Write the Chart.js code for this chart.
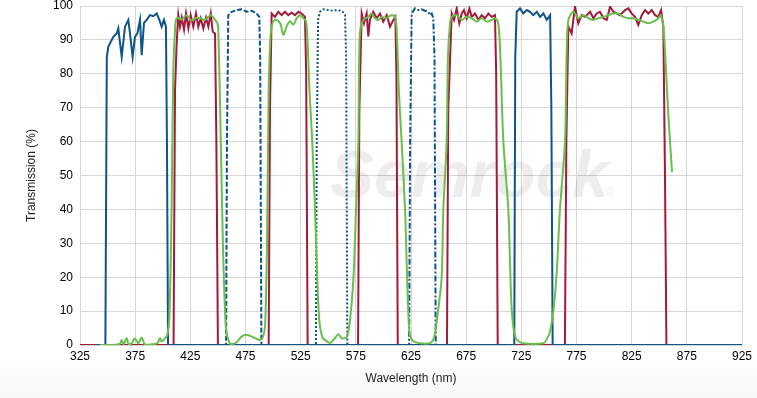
<!DOCTYPE html>
<html>
<head>
<meta charset="utf-8">
<script src="https://cdn.jsdelivr.net/npm/chart.js@4.4.1/dist/chart.umd.min.js"></script>
<style>
  html, body { margin:0; padding:0; background:#fff; }
  #wrap { width:757px; height:398px; background:linear-gradient(#fff 0, #fff 350px, #f7f7f7 398px); }
</style>
</head>
<body>
<div id="wrap"><canvas id="filterChart" width="757" height="398"></canvas></div>
<script>
// ==========================
// DATA (wavelength nm / transmission %)
// ==========================
const blueSolidWl = [340,348,349.3,350.7,352.2,355.2,358.3,359.7,362.8,365.8,368.8,370.3,372.7,374.8,377,379.4,380.9,383,385.4,388.4,391.4,394.5,396.9,399,401.1,402.9,403.8,404.8,
  716,718.6,719.5,720.8,723.8,726.8,729.9,732.9,735.9,739,742,745,748.1,751.1,752.2,753.4,925];
const blueSolidT  = [0,0,85,88,89,90.9,91.9,93.4,85,93.9,95.9,91.9,85,90.9,91.9,95.9,85.5,95,95.9,97.3,97,97.8,95.9,93.9,95.9,93.9,60,0,
  0,0,85,98.3,99.3,97.8,98.8,98.3,97.3,98.3,96.8,97.8,95.9,97.3,70,0,0];

const blueDashWl = [455,457.4,458.2,459.4,462.5,467,471.5,476.1,480.6,485.1,487.5,488.3,489.4,492];
const blueDashT  = [0,0,60,97.3,98.3,98.8,99,98.3,98.6,97.8,96.8,85,0,0];

const blueDotWl = [536,538.8,539.6,540.8,542.5,545.6,550.1,554.7,559.2,563.1,565.2,566.2,567.3,570];
const blueDotT  = [0,0,60,96,98.3,99,98.8,98.6,98.8,98.3,97.3,85,0,0];

const blueDashDotWl = [620,623.3,624.2,625.6,628.6,631.6,634.7,637.7,640.7,642.2,643.8,645.2,646.3,647.4,651];
const blueDashDotT  = [0,0,60,97.8,99.3,98.8,99,98.6,98.3,97.3,97.8,96.4,85,0,0];

const redWl = [325,409.8,411.1,412.6,414.1,415.6,417.2,419.3,421.1,423.2,425.3,427.7,430.1,432.2,434.4,436.8,439.2,441.3,443.5,445.3,447.4,448.6,450,
  496,497.2,498.7,501.7,504.7,507.8,510.8,513.8,516.8,519.9,522.9,525.9,528.9,530,531.3,
  577,578.2,580.3,582.4,584.8,586.3,587.8,590.8,593.9,596.9,599.9,603,606,609,610.8,611.8,613,
  657.6,658.8,661.9,664,666.4,668.8,671,673,675.5,677.9,680,683,686.1,689.1,692.1,695.1,698.2,701.1,702.2,703.6,
  764.5,765.8,767.6,770.6,773.6,776.6,779.7,782.7,787.3,790.3,793.3,796.3,799.3,802.4,805.4,808.4,811.4,814.4,819,822,825,828,831,834.1,837.1,840.1,843.2,846.2,849.2,851.6,853.7,855.2,856.5,925];
const redT  = [0,0,75,89,97.3,93.9,96.6,93,97.8,93.4,97.3,93.9,97.8,93.9,96.4,93.4,96.6,93.9,97.8,92.4,91.9,60,0,
  0,70,97.8,96.8,98.3,97.3,98.3,97.3,98,97.3,98.3,97.8,96.8,80,0,
  0,70,97.8,94.9,97.8,91,96,98.3,96.4,97.8,95.4,97.3,93.9,95.9,96.8,80,0,
  0,70,97.8,95.9,99.3,94.9,97.8,98.8,96.4,99.3,96.8,97.8,95.9,97.3,96.4,97.8,96.8,97.3,80,0,
  0,60,93.9,91.9,99.8,94.9,97.3,96.8,98.3,96.4,97.8,98.3,96.4,95.9,99.8,98.3,97.8,97.3,98.8,99.3,97.8,96.8,94.4,97.3,98.8,97.8,98.8,97.3,96.8,98.8,93.9,50,0,0];

const greenWl = [343,355,361,362.8,364.5,367.3,369,372,374,375.8,377.9,380.9,383.9,390,395,397.5,399,402,404.2,406,408,409.5,411,412.6,417.2,421.5,426,430.1,434.4,438,443.5,447.4,449.5,450.4,452,454.5,457,458.5,461,463.5,467,471,476,482,488,490.5,492.7,494.5,496,497.5,
  498.7,501.7,506.3,509.3,512.3,515.3,518.4,521.4,524.4,527.4,529.8,531.2,533,535.5,538,539.5,541,542.5,545,547,551.6,556,559.1,562.2,566.7,569.7,572.7,575.2,577.3,578.6,
  581.8,586.3,589.4,592.4,595.4,598.5,601.5,604.5,607.5,610.5,612,614,616.5,619.6,621,622.5,624,627,633,642,645,646.8,649.5,652.8,654.3,657.3,658.5,660.4,
  661.9,666.4,671,675.5,680,684.6,689.1,693.6,698.2,701.1,704.1,706,708.7,713.2,714.7,716,717.7,720,722.3,726,745,748,751,754,757,760,764.6,766,767.6,
  772.1,776.6,781.2,785.7,790.3,794.8,799.3,803.9,808.4,812.9,817.4,822,826.5,831,835.6,840.1,844.6,849.2,851.3,853.7,855.5,858.2,861.6];
const greenT  = [0,0,0.3,1.5,0.3,2,0.3,0.5,1.8,1.5,0.5,2.2,0.2,0.2,0.5,2,1,2,3,8,40,80,92,96.5,96,97.3,95.7,96.5,96.4,95.9,97.3,95.9,95,92,70,30,6,2.5,0.5,0.3,0.8,2.4,3,2.3,1.5,2.2,5.4,30,75,90,
  94,95.9,95,91.5,94,95.5,94.5,96.4,97.3,96.4,95.5,90,75,60,40,25,12,5.4,2,1.5,0.6,2,3.2,2,2.3,7.3,19,40,60,92,
  95.9,96.8,97.8,96.4,95.9,96.8,96.4,96.8,97.3,96.8,93,75,60,40,25,10,3,1.2,0.5,0.5,1.5,3.5,10,20,40,60,85,95,
  96.8,97.3,95.9,96.8,96.4,95.4,96.4,95.4,95.9,96.4,94.9,85,60,40,25,12,5.4,2,1.2,0.5,0.5,1.7,4,10,21,40,60,85,95.9,
  98.3,96.4,97.3,96.4,95.9,96.4,96.8,97.3,97.8,97.8,96.8,96.4,96.4,95.9,95.4,94.9,95.4,96.4,97.3,93.9,85,68,51];

const xTicks = [325,375,425,475,525,575,625,675,725,775,825,875,925];

// ==========================
// HELPERS
// ==========================
function toPoints(wl, t){
  return wl.map((w,i)=>({ x:w, y:t[i] }));
}

const BLUE = '#0f5489';
const RED = '#a2193a';
const GREEN = '#69be4c';

function lineSet(label, wl, t, color, dash, order, smooth){
  return {
    label,
    data: toPoints(wl, t),
    borderColor: color,
    backgroundColor: color,
    borderWidth: 2,
    borderDash: dash || [],
    pointRadius: 0,
    fill: false,
    tension: smooth ? 0.3 : 0,
    order
  };
}

// faint logo text behind the curves
const watermark = {
  id: 'watermark',
  beforeDatasetsDraw(chart){
    const ctx = chart.ctx;
    ctx.save();
    ctx.fillStyle = 'rgba(0,0,0,0.07)';
    ctx.font = 'italic bold 66px "Liberation Sans", Arial, sans-serif';
    ctx.textBaseline = 'alphabetic';
    ctx.fillText('Semrock', 330, 197);
    ctx.font = '12px "Liberation Sans", Arial, sans-serif';
    ctx.fillText('®', 606, 197);
    ctx.restore();
  }
};

// ==========================
// CHART
// ==========================
const tickFont = { family:'"Liberation Sans", Arial, sans-serif', size:12 };

new Chart(document.getElementById('filterChart'), {
  type: 'line',
  data: {
    datasets: [
      lineSet('Green', greenWl, greenT, GREEN, null, 0, true),
      lineSet('Blue', blueSolidWl, blueSolidT, BLUE, null, 1),
      lineSet('Blue dashed', blueDashWl, blueDashT, BLUE, [5,2], 1),
      lineSet('Blue dotted', blueDotWl, blueDotT, BLUE, [2,2], 1),
      lineSet('Blue dash-dot', blueDashDotWl, blueDashDotT, BLUE, [6,2,2,2], 1),
      lineSet('Red', redWl, redT, RED, null, 2)
    ]
  },
  options: {
    responsive: false,
    animation: false,
    layout: { padding: { left: 20, right: 15, top: 6, bottom: 8 } },
    plugins: { legend: { display:false }, tooltip: { enabled:false } },
    scales: {
      x: {
        type: 'linear',
        min: 325, max: 925,
        afterBuildTicks: s => { s.ticks = xTicks.map(v=>({ value:v })); },
        afterFit: s => { s.height = 45; s.paddingLeft = 0; s.paddingRight = 0; },
        grid: { color:'#d6d6d6', drawTicks:false },
        border: { color:'#d6d6d6' },
        ticks: { color:'#000', font:tickFont, padding:4 },
        title: { display:true, text:'Wavelength (nm)', color:'#222', font:tickFont, padding:{ top:4, bottom:4 } }
      },
      y: {
        min: 0, max: 100,
        afterFit: s => { s.width = 60; s.paddingTop = 0; s.paddingBottom = 0; },
        grid: { color:'#d6d6d6', drawTicks:false },
        border: { color:'#d6d6d6' },
        ticks: { stepSize:10, color:'#000', font:tickFont, padding:7 },
        title: { display:true, text:'Transmission (%)', color:'#222', font:tickFont, padding:{ top:4, bottom:4 } }
      }
    }
  },
  plugins: [watermark]
});
</script>
</body>
</html>
